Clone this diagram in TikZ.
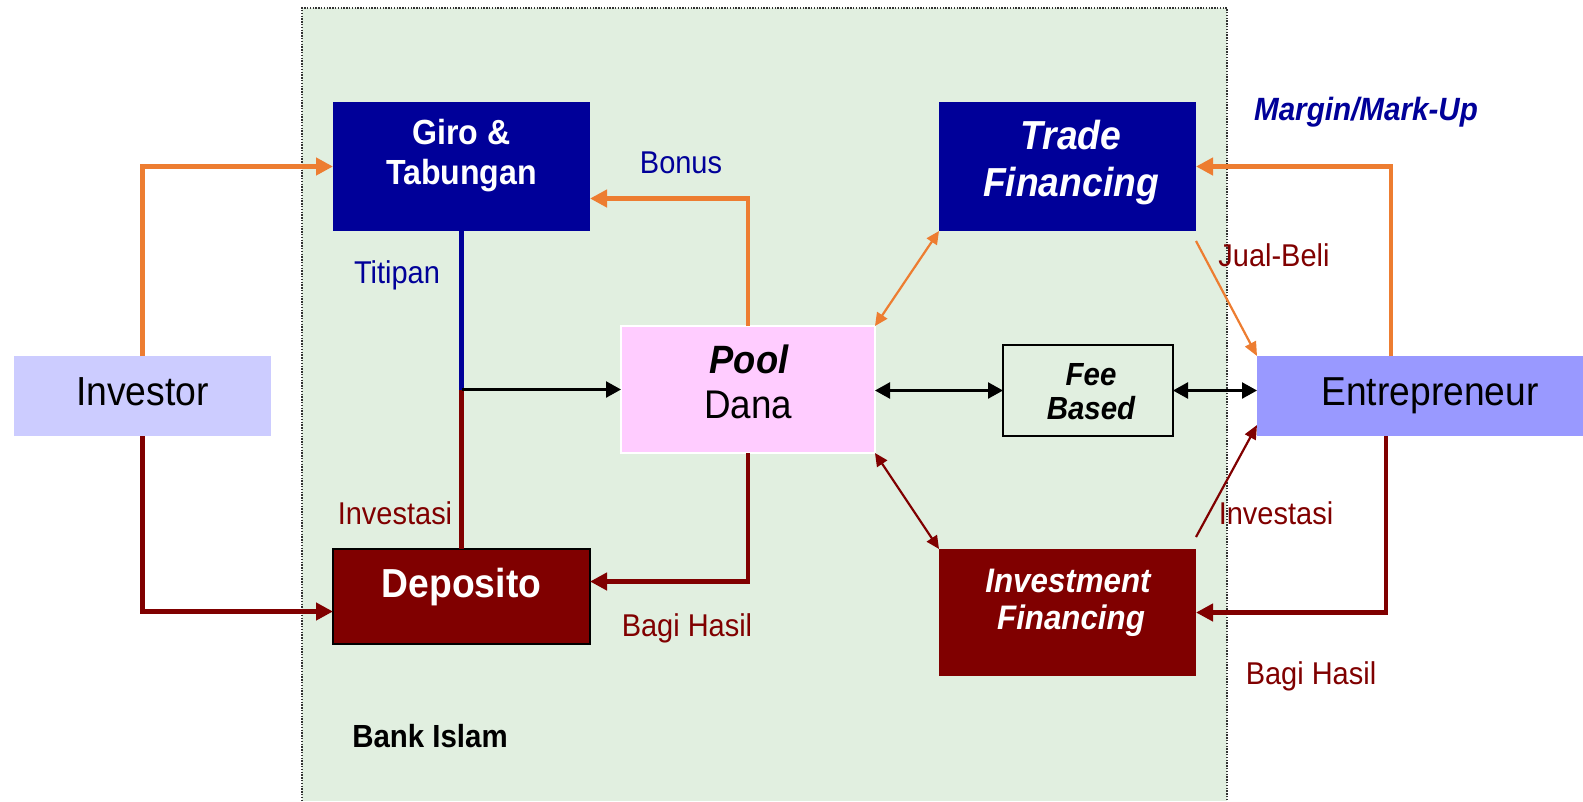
\documentclass[tikz,border=0pt]{standalone}
\usepackage{fontspec}
\setmainfont{Liberation Sans}[FakeStretch=0.92]
\usetikzlibrary{arrows.meta,calc}
\definecolor{org}{RGB}{237,125,49}
\definecolor{navy}{RGB}{0,0,153}
\definecolor{maroon}{RGB}{128,0,0}
\definecolor{bankbg}{RGB}{225,239,224}
\definecolor{poolfill}{RGB}{255,204,255}
\definecolor{invfill}{RGB}{204,204,255}
\definecolor{entfill}{RGB}{153,153,255}
\newcommand{\myfs}[1]{\fontsize{#1}{#1}\selectfont}
\begin{document}
\begin{tikzpicture}[x=1pt,y=-1pt,
  box/.style={rectangle, inner sep=0pt, outer sep=0pt},
  bigtip/.style={-{Triangle[length=17pt,width=17pt]}},
  thickorg/.style={org, line width=4.5pt, bigtip},
  thickred/.style={maroon, line width=4.5pt, bigtip},
  thintip/.style={{Triangle[length=13pt,width=12pt]}-{Triangle[length=13pt,width=12pt]}},
  blacktip/.style={{Triangle[length=15pt,width=16pt]}-{Triangle[length=15pt,width=16pt]}},
  lbl/.style={anchor=base, inner sep=0pt, font=\myfs{31.5}},
  wtxt/.style={anchor=base, inner sep=0pt, text=white}
]
\useasboundingbox (0,0) rectangle (1583,801);
% Bank Islam region
\fill[bankbg] (302,8) rectangle (1227,801);
\draw[line width=1.3pt, dash pattern=on 1.4pt off 1.4pt, black!80] (302,801) -- (302,8) -- (1227,8) -- (1227,801);

% boxes
\node[box, fill=navy, minimum width=257, minimum height=129] (giro) at (461.5,166.5) {};
\node[box, fill=navy, minimum width=257, minimum height=129] (trade) at (1067.5,166.5) {};
\node[box, fill=poolfill, draw=white, line width=2pt, minimum width=254, minimum height=127] (pool) at (748,389.5) {};
\node[box, draw=black, line width=2pt, minimum width=170, minimum height=91] (fee) at (1088,390.5) {};
\node[box, fill=invfill, minimum width=257, minimum height=80] (investor) at (142.5,396) {};
\node[box, fill=entfill, minimum width=326, minimum height=80] (ent) at (1420,396) {};
\node[box, fill=maroon, draw=black, line width=2pt, minimum width=257, minimum height=95] (depo) at (461.5,596.5) {};
\node[box, fill=maroon, minimum width=257, minimum height=127] (invest) at (1067.5,612.5) {};

% box texts
\node[wtxt, font=\bfseries\myfs{34.9}] (t1) at (461.5,144) {Giro \&};
\node[wtxt, font=\bfseries\myfs{34.9}] (t2) at (461.5,184) {Tabungan};
\node[wtxt, font=\bfseries\itshape\myfs{40.5}] (t3) at (1071,149) {Trade};
\node[wtxt, font=\bfseries\itshape\myfs{40.5}] (t4) at (1071,196) {Financing};
\node[wtxt, text=black, font=\bfseries\itshape\myfs{39.5}] (t5) at (749,373) {Pool};
\node[wtxt, text=black, font=\myfs{40}] (t6) at (748,418) {Dana};
\node[wtxt, text=black, font=\bfseries\itshape\myfs{32}] (t7) at (1091,385) {Fee};
\node[wtxt, text=black, font=\bfseries\itshape\myfs{32}] (t8) at (1091,419) {Based};
\node[wtxt, text=black, font=\myfs{40.6}] (t9) at (142.5,405) {Investor};
\node[wtxt, text=black, font=\myfs{40.4}] (t10) at (1430,405) {Entrepreneur};
\node[wtxt, font=\bfseries\myfs{40.5}] (t11) at (461.5,597) {Deposito};
\node[wtxt, font=\bfseries\itshape\myfs{34}] (t12) at (1068,592) {Investment};
\node[wtxt, font=\bfseries\itshape\myfs{34}] (t13) at (1071,629) {Financing};

% connectors
\draw[thickorg] (investor.north) |- (giro.west);
\draw[thickred] (investor.south) |- ($(depo.west)+(0,15)$);
\draw[thickorg] (pool.north) |- ($(giro.east)+(0,32)$);
\draw[thickred] (pool.south) |- ($(depo.east)+(0,-15)$);
\coordinate (junc) at (giro.south |- pool.west);
\draw[navy, line width=5pt] (giro.south) -- (junc);
\draw[maroon, line width=5pt] (depo.north) -- (junc);
\draw[black, line width=2.4pt, -{Triangle[length=15pt,width=16pt]}] (junc) -- (pool.west);
\draw[org, line width=2.2pt, thintip] (pool.north east) -- (trade.south west);
\draw[maroon, line width=2.2pt, thintip] (pool.south east) -- (invest.north west);
\draw[black, line width=2.4pt, blacktip] (fee.west -| pool.east) -- (fee.west);
\draw[black, line width=2.4pt, blacktip] (fee.east) -- (fee.east -| ent.west);
\draw[org, line width=2.2pt, -{Triangle[length=14pt,width=12pt]}] ($(trade.south east)+(0,10)$) -- (ent.north west);
\draw[maroon, line width=2.2pt, -{Triangle[length=14pt,width=12pt]}] ($(invest.north east)+(0,-12)$) -- ($(ent.south west)+(0,-11)$);
\draw[thickorg] ($(ent.north)+(-29,0)$) |- (trade.east);
\draw[thickred] ($(ent.south)+(-34,0)$) |- (invest.east);

% labels
\node[lbl, text=navy] (l1) at (681,173) {Bonus};
\node[lbl, text=navy] (l2) at (397,283) {Titipan};
\node[lbl, text=maroon] (l3) at (1274,266) {Jual-Beli};
\node[lbl, text=maroon] (l4) at (395,524) {Investasi};
\node[lbl, text=maroon] (l5) at (1276,524) {Investasi};
\node[lbl, text=maroon] (l6) at (687,636) {Bagi Hasil};
\node[lbl, text=maroon] (l7) at (1311,684) {Bagi Hasil};
\node[lbl, text=black, font=\bfseries\myfs{32}] (l8) at (430,747) {Bank Islam};
\node[lbl, text=navy, font=\bfseries\itshape\myfs{32.2}] (l9) at (1366,120) {Margin/Mark-Up};
\end{tikzpicture}
\end{document}
